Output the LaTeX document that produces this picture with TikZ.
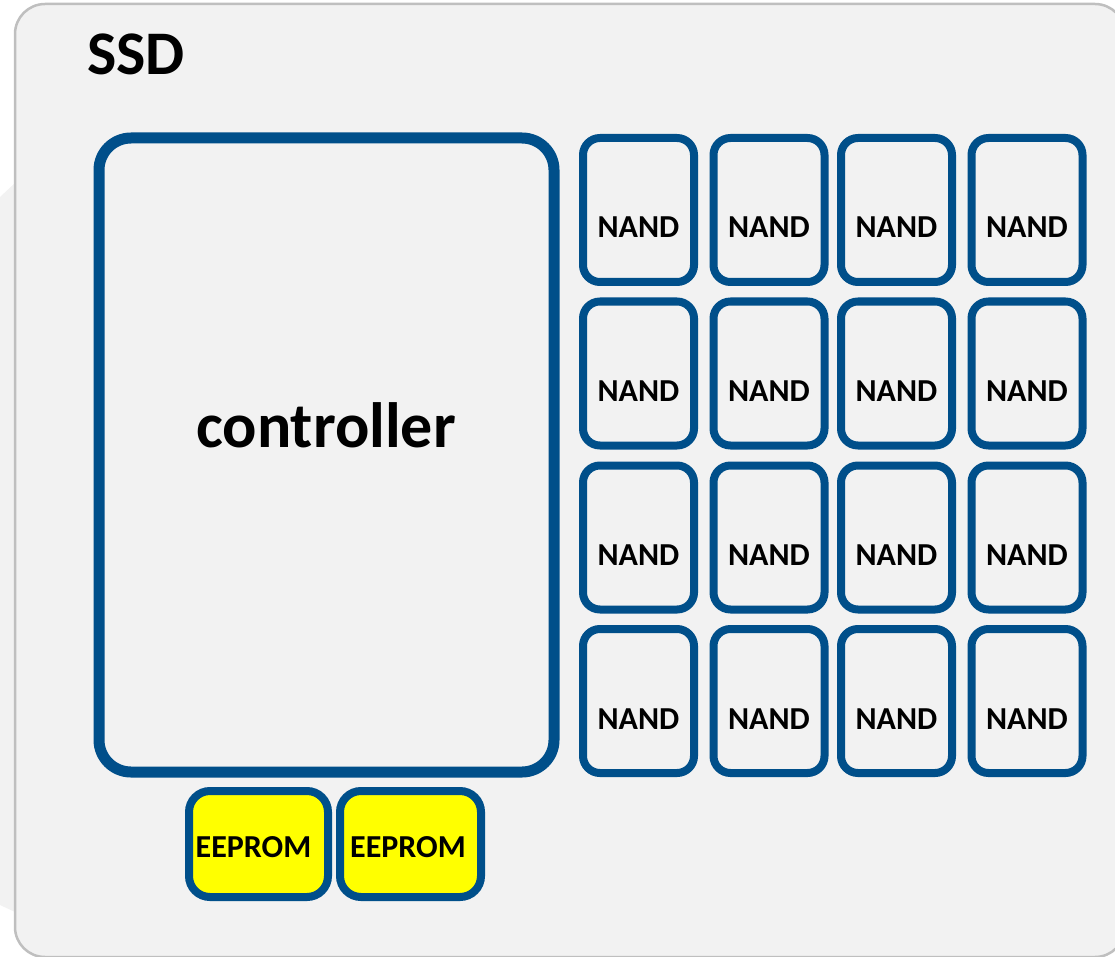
\documentclass[tikz,border=0pt]{standalone}
\usepackage{fontspec}
\setmainfont{Carlito}
\definecolor{ssdblue}{RGB}{0,79,138}
\definecolor{ssdbg}{RGB}{242,242,242}
\definecolor{ssdedge}{RGB}{191,191,191}
\definecolor{eeyellow}{RGB}{255,255,0}
\tikzset{
  chipbox/.style={draw=ssdblue, line width=8pt, rounded corners=17pt, inner sep=0pt},
  nandbox/.style={chipbox, minimum width=111pt, minimum height=144pt},
  eebox/.style={chipbox, fill=eeyellow, rounded corners=21pt, minimum height=106pt},
  smalltxt/.style={font=\bfseries\fontsize{32}{36}\selectfont, inner sep=0pt, anchor=base},
  bigtxt/.style={font=\bfseries\fontsize{62}{70}\selectfont, inner sep=0pt, anchor=base}
}
\begin{document}
\begin{tikzpicture}[x=1pt,y=-1pt]
\useasboundingbox (0,0) rectangle (1115,957);
\clip (0,0) rectangle (1115,957);
% faint backdrop
\fill[ssdbg] (0,197) -- (15,183) -- (15,912) -- (0,905) -- cycle;
% SSD enclosure
\node[draw=ssdedge, fill=ssdbg, line width=2.5pt, rounded corners=30pt,
      minimum width=1110pt, minimum height=953pt, inner sep=0pt] (ssd) at (570,480.5) {};
\node[bigtxt] (ssdlbl) at (136,75) {SSD};
% controller
\node[chipbox, line width=11pt, rounded corners=32pt, minimum width=455pt, minimum height=634pt] (ctrl) at (326.5,455) {};
\node[bigtxt, font=\bfseries\fontsize{64}{72}\selectfont] (ctrllbl) at (326,447) {controller};
% NAND grid
\foreach \r/\y in {1/210,2/373.5,3/537.5,4/701}{
  \foreach \c/\x in {1/638.5,2/769,3/896.5,4/1027}{
    \node[nandbox] (n\r\c) at (\x,\y) {};
    \node[smalltxt] (t\r\c) at ([yshift=-28pt]n\r\c.center) {NAND};
  }
}
% EEPROMs
\node[eebox, minimum width=139pt] (ee1) at (258.5,844) {};
\node[smalltxt] (ee1lbl) at (253.5,857) {EEPROM};
\node[eebox, minimum width=141pt] (ee2) at (410.5,844) {};
\node[smalltxt] (ee2lbl) at (408,857) {EEPROM};
\end{tikzpicture}
\end{document}
